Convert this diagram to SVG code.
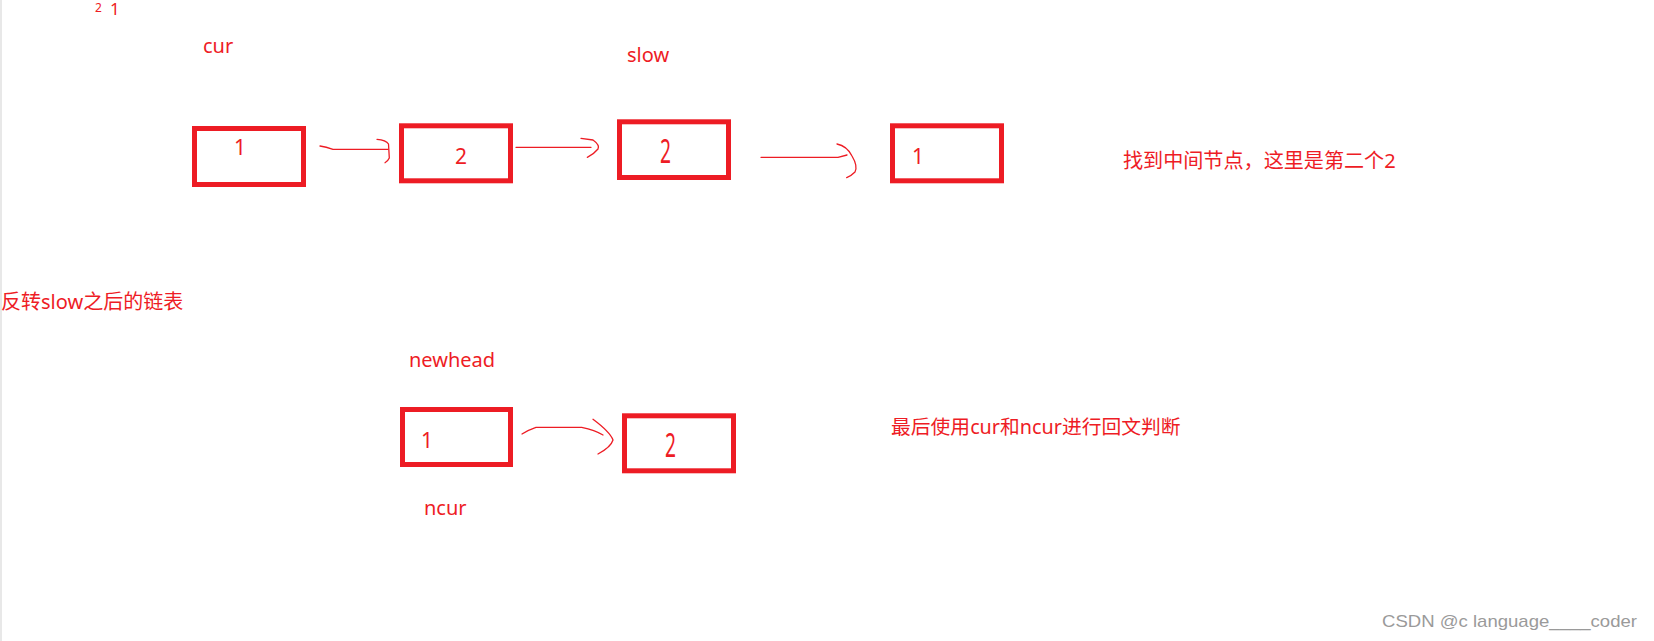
<svg xmlns="http://www.w3.org/2000/svg" width="1654" height="641" viewBox="0 0 1654 641">
<style>
.box{fill:none;stroke:#ED1C24;stroke-width:5}
.t{font-family:"Noto Sans","Noto Sans CJK SC",sans-serif;fill:#EE1C25;font-size:20px}
.d{font-family:"Noto Sans","Noto Sans CJK SC",sans-serif;fill:#EE1C25;font-size:21px}
.tall{font-family:"Noto Sans","Noto Sans CJK SC",sans-serif;fill:#EE1C25;font-size:32px}
.c{fill:none;stroke:#ED1C24;stroke-width:1.3;stroke-linecap:round;stroke-linejoin:round}
.wm{font-family:"Liberation Sans",Arial,sans-serif;fill:#9a9a9a;font-size:17px}
</style>
<rect width="1654" height="641" fill="#fff"/>
<line x1="1" y1="0" x2="1" y2="641" stroke="#e8e8e8" stroke-width="2"/>
<g id="top-digits">
<text class="t" x="95" y="12" style="font-size:12px">2</text>
<text class="t" x="110" y="15" style="font-size:17px">1</text>
</g>
<g id="labels">
<text class="t" x="203" y="53">cur</text>
<text class="t" x="627" y="62">slow</text>
<text class="t" x="1123" y="168" style="font-size:20.1px">找到中间节点，这里是第二个2</text>
<text class="t" x="1" y="309">反转slow之后的链表</text>
<text class="t" x="409" y="367">newhead</text>
<text class="t" x="424" y="515">ncur</text>
<text class="t" x="891" y="434" style="font-size:19.8px">最后使用cur和ncur进行回文判断</text>
</g>
<g id="node1"><rect class="box" x="194.5" y="128.5" width="109" height="56"/><text class="d" x="234" y="155">1</text></g>
<g id="node2"><rect class="box" x="401.5" y="125.8" width="109" height="55"/><text class="d" x="455" y="164">2</text></g>
<g id="node3"><rect class="box" x="619.5" y="121.8" width="109" height="55.7"/><text class="tall" transform="translate(660,162.7) scale(0.6,1)">2</text></g>
<g id="node4"><rect class="box" x="892.5" y="125.8" width="109" height="55"/><text class="d" x="912" y="164">1</text></g>
<g id="node5"><rect class="box" x="402.5" y="409.5" width="108" height="55"/><text class="d" x="421" y="448">1</text></g>
<g id="node6"><rect class="box" x="624.5" y="415.8" width="109" height="55"/><text class="tall" transform="translate(665,456.7) scale(0.6,1)">2</text></g>
<g id="connectors">
<path class="c" d="M320,146 Q326,147 333,149.3 L388,149.3"/>
<path class="c" d="M377,139.3 Q386,140 388.5,144 L389.3,158 Q388,161 385,162.7"/>
<path class="c" d="M516,147.3 L591,147.3"/>
<path class="c" d="M581,138.3 L593,140 Q600,145 598,149 Q594,154 587.3,157.3"/>
<path class="c" d="M761,157.3 L838,157.3 L847,155"/>
<path class="c" d="M837,144 Q847,146 852,156 Q858,166 855,172 Q851,176 846.7,177.7"/>
<path class="c" d="M522,434 Q528,430 536,427.3 L581.7,427.3 Q595,430 603,435"/>
<path class="c" d="M593,419.3 Q610,432 613,440 Q611,447 598,454"/>
</g>
<text class="wm" x="1382" y="627" textLength="255" lengthAdjust="spacingAndGlyphs">CSDN @c language____coder</text>
</svg>
